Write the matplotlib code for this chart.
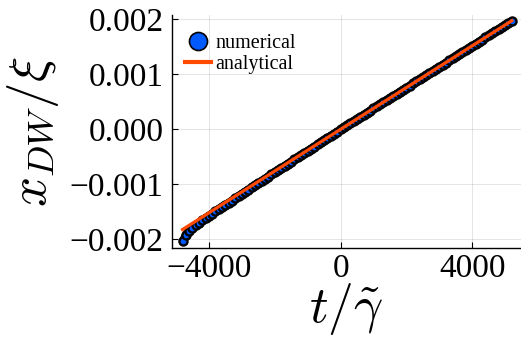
import matplotlib
matplotlib.use("Agg")
import matplotlib.pyplot as plt
from matplotlib.lines import Line2D
import numpy as np

# numerical domain-wall position vs time (y in units of 1e-3)
t_num = np.arange(-4800, 5201, 100)
x_num = np.array([
    -2.034, -1.916, -1.843, -1.788, -1.740, -1.697, -1.656, -1.615, -1.575, -1.535,
    -1.495, -1.455, -1.415, -1.375, -1.335, -1.296, -1.256, -1.217, -1.177, -1.138,
    -1.098, -1.059, -1.019, -0.980, -0.941, -0.901, -0.862, -0.822, -0.783, -0.744,
    -0.704, -0.665, -0.626, -0.586, -0.547, -0.508, -0.469, -0.430, -0.391, -0.352,
    -0.313, -0.274, -0.235, -0.196, -0.157, -0.118, -0.079, -0.040, -0.002, 0.037,
    0.075, 0.113, 0.151, 0.189, 0.227, 0.265, 0.303, 0.341, 0.379, 0.417,
    0.455, 0.493, 0.531, 0.569, 0.607, 0.645, 0.683, 0.721, 0.759, 0.797,
    0.835, 0.873, 0.911, 0.949, 0.987, 1.025, 1.063, 1.101, 1.139, 1.177,
    1.215, 1.253, 1.291, 1.329, 1.367, 1.405, 1.443, 1.481, 1.519, 1.557,
    1.595, 1.633, 1.671, 1.709, 1.747, 1.785, 1.823, 1.861, 1.899, 1.937,
    1.975,
]) * 1e-3

# analytical straight line (end points)
t_ana = [-4800, 5200]
x_ana = [-1.824e-3, 1.976e-3]

xticks = [-4000, 0, 4000]
yticks = [-0.002, -0.001, 0.0, 0.001, 0.002]
ytick_labels = ["\u22120.002", "\u22120.001", "0.000", "0.001", "0.002"]
xtick_labels = ["\u22124000", "0", "4000"]

blue = "#005AFF"
orange = "#FF4A00"

plt.rcParams["font.family"] = ["Liberation Serif", "DejaVu Serif"]
plt.rcParams["mathtext.fontset"] = "cm"

W, H = 521, 337
fig = plt.figure(figsize=(W / 100, H / 100), dpi=100)
ax = fig.add_axes([172 / W, 1 - 248 / H, (521 - 172) / W, (248 - 15) / H])

# dense scatter in the original looks like a dark band: black path under the markers
ax.plot(t_num, x_num, color="black", linewidth=5.5, solid_capstyle="round", zorder=2)
ax.plot(t_num, x_num, linestyle="none", marker="o", markersize=5.8,
        markerfacecolor=blue, markeredgecolor="black", markeredgewidth=1.7, zorder=3)
ax.plot(t_ana, x_ana, color=orange, linewidth=2.3, zorder=4)

ax.set_xlim(-5120, 5480)
ax.set_ylim(-0.00216, 0.00208)
ax.set_xticks(xticks)
ax.set_xticklabels(xtick_labels)
ax.set_yticks(yticks)
ax.set_yticklabels(ytick_labels)

ax.grid(True, color="black", alpha=0.1, linewidth=0.8)
ax.set_axisbelow(True)
for s in ["top", "right"]:
    ax.spines[s].set_visible(False)
for s in ["left", "bottom"]:
    ax.spines[s].set_linewidth(1.0)
ax.tick_params(direction="in", length=4, width=0.8, labelsize=24)
ax.tick_params(axis="y", pad=6)
ax.tick_params(axis="x", pad=4)

ax.set_xlabel(r"$t/\tilde{\gamma}$", fontsize=37, labelpad=-2)
ax.set_ylabel(r"$x_{DW}/\xi$", fontsize=38, labelpad=6)

handles = [
    Line2D([], [], linestyle="none", marker="o", markersize=13,
           markerfacecolor=blue, markeredgecolor="black", markeredgewidth=1.2),
    Line2D([], [], color=orange, linewidth=3),
]
ax.legend(handles, ["numerical", "analytical"], loc="upper left",
          bbox_to_anchor=(185 / W, 1 - 34 / H), bbox_transform=fig.transFigure,
          frameon=False, fontsize=14.5, handlelength=1.3, handletextpad=0.2,
          labelspacing=0.1, borderpad=0.0, borderaxespad=0.0)

fig.savefig("out.png", dpi=100)
